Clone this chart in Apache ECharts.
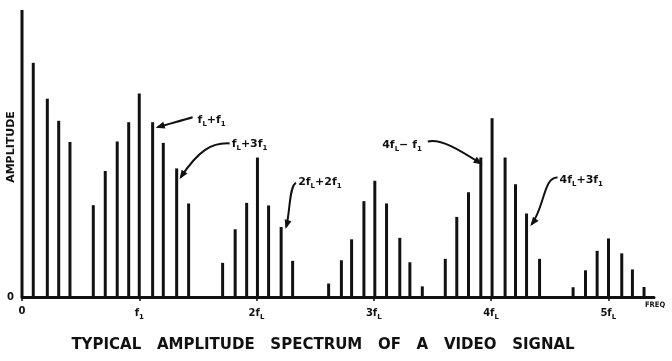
<!DOCTYPE html>
<html>
<head>
<meta charset="utf-8">
<script src="https://cdn.jsdelivr.net/npm/echarts@6/dist/echarts.min.js"></script>
<style>
  html, body { margin: 0; padding: 0; background: #fff; }
  #chart { width: 672px; height: 361px; }
</style>
</head>
<body>
<div id="chart"></div>
<script>
// frequency in units of fL, amplitude in % of the DC line
var freqDC = [0, 0.096, 0.216, 0.313, 0.409];
var ampDC  = [100, 81.6, 69.1, 61.4, 54.0];
var freq1  = [0.608, 0.71, 0.812, 0.91, 1.0, 1.114, 1.205, 1.319, 1.421];
var amp1   = [32.0, 43.9, 54.2, 60.9, 70.9, 60.9, 53.7, 44.8, 32.6];
var freq2  = [1.711, 1.818, 1.916, 2.008, 2.103, 2.21, 2.308];
var amp2   = [11.9, 23.6, 32.8, 48.6, 31.9, 24.4, 12.6];
var freq3  = [2.615, 2.724, 2.811, 2.916, 3.009, 3.109, 3.222, 3.308, 3.414];
var amp3   = [4.7, 12.8, 20.1, 33.4, 40.5, 32.6, 20.6, 12.1, 3.7];
var freq4  = [3.61, 3.708, 3.808, 3.913, 4.009, 4.12, 4.209, 4.303, 4.414];
var amp4   = [13.3, 27.9, 36.5, 48.6, 62.3, 48.6, 39.3, 29.1, 13.3];
var freq5  = [4.70, 4.806, 4.905, 5.002, 5.115, 5.206, 5.305];
var amp5   = [3.4, 9.3, 16.1, 20.4, 15.2, 9.6, 3.5];

var tickMain = ['0', 'f', '2f', '3f', '4f', '5f'];
var tickSub  = ['', '1', 'L', 'L', 'L', 'L'];

// annotations: text parts, the line they point at
var noteText = [
  ['f', 'L', '+f', '1'],
  ['f', 'L', '+3f', '1'],
  ['2f', 'L', '+2f', '1'],
  ['4f', 'L', '\u2212 f', '1'],
  ['4f', 'L', '+3f', '1']
];
var noteFreq = [1.114, 1.319, 2.21, 3.913, 4.303];
var noteAmp  = [60.9, 44.8, 24.4, 48.6, 29.1];

var FONT = '"DejaVu Sans", sans-serif';
var chart = echarts.init(document.getElementById('chart'));

var lines = [];
[[freqDC, ampDC], [freq1, amp1], [freq2, amp2], [freq3, amp3], [freq4, amp4], [freq5, amp5]].forEach(function (c) {
  for (var i = 0; i < c[0].length; i++) lines.push([c[0][i], c[1][i]]);
});

var subRich = {
  m: { fontSize: 10, fontWeight: 'bold', fontFamily: FONT, color: '#111' },
  s: { fontSize: 7, fontWeight: 'bold', fontFamily: FONT, color: '#111', padding: [8, 0, 0, 0] }
};

var options = {
  animation: false,
  backgroundColor: '#fff',
  title: {
    text: 'TYPICAL   AMPLITUDE   SPECTRUM   OF   A   VIDEO   SIGNAL',
    left: 318, textAlign: 'center', top: 333,
    textStyle: { fontSize: 15, fontWeight: 'bold', fontFamily: FONT, color: '#111' }
  },
  grid: { left: 22, right: 18, top: 10, bottom: 64, containLabel: false, outerBoundsMode: 'none' },
  xAxis: {
    type: 'value', min: 0, max: 5.39, interval: 1,
    name: 'FREQ', nameLocation: 'end', nameGap: -9,
    nameTextStyle: { fontSize: 7.5, fontWeight: 'bold', fontFamily: '"DejaVu Sans Condensed", "DejaVu Sans", sans-serif', color: '#111', verticalAlign: 'top', padding: [4, 0, 0, 0] },
    axisLine: { show: true, lineStyle: { color: '#111', width: 3 } },
    axisTick: { show: true, length: 4, lineStyle: { color: '#111', width: 1.5 } },
    splitLine: { show: false },
    axisLabel: {
      margin: 9, showMaxLabel: false,
      formatter: function (v) {
        var i = Math.round(v);
        if (Math.abs(v - i) > 1e-6 || i > 5) return '';
        return '{m|' + tickMain[i] + '}' + (tickSub[i] ? '{s|' + tickSub[i] + '}' : '');
      },
      rich: subRich
    }
  },
  yAxis: {
    type: 'value', min: 0, max: 100, interval: 100,
    name: 'AMPLITUDE', nameLocation: 'middle', nameRotate: 90, nameGap: 5, nameMoveOverlap: false,
    nameTextStyle: { fontSize: 11, fontWeight: 'bold', fontFamily: FONT, color: '#111', padding: [0, 0, 0, 13] },
    axisLine: { show: false }, axisTick: { show: false }, splitLine: { show: false },
    axisLabel: {
      margin: 8, fontSize: 10, fontWeight: 'bold', fontFamily: FONT, color: '#111',
      formatter: function (v) { return v === 0 ? '0' : ''; }
    }
  },
  series: [{
    type: 'bar', data: lines, barWidth: 3, clip: false,
    itemStyle: { color: '#111' }
  }]
};
chart.setOption(options);

// arrow geometry, px offsets from the tip of the pointed line
var noteLayout = [
  { tx: 45, ty: -2, align: 'left',  s: [40, -5],  c1: [30, -2],  c2: [15, 2],   e: [5, 5] },
  { tx: 55, ty: -24, align: 'left', s: [53, -25], c1: [35, -26], c2: [22, -18], e: [4, 9] },
  { tx: 17, ty: -45, align: 'left', s: [15, -44], c1: [8, -42],  c2: [9, -14],  e: [5, 0] },
  { tx: -59, ty: -12, align: 'right', s: [-53, -16], c1: [-40, -19], c2: [-22, -8], e: [0, 6] },
  { tx: 33, ty: -33, align: 'left', s: [31, -36], c1: [17, -37], c2: [18, -6],  e: [5, 11] }
];

var graphics = [];
noteText.forEach(function (t, k) {
  var p = chart.convertToPixel({ gridIndex: 0 }, [noteFreq[k], noteAmp[k]]);
  var L = noteLayout[k];
  var sx = p[0] + L.s[0], sy = p[1] + L.s[1];
  var ex = p[0] + L.e[0], ey = p[1] + L.e[1];
  var c2x = p[0] + L.c2[0], c2y = p[1] + L.c2[1];
  graphics.push({
    type: 'text', x: p[0] + L.tx, y: p[1] + L.ty,
    style: {
      text: '{m|' + t[0] + '}{s|' + t[1] + '}{m|' + t[2] + '}{s|' + t[3] + '}',
      align: L.align, verticalAlign: 'middle',
      rich: {
        m: { fontSize: 11, fontWeight: 'bold', fontFamily: FONT, fill: '#111' },
        s: { fontSize: 7, fontWeight: 'bold', fontFamily: FONT, fill: '#111', padding: [8, 0, 0, 0] }
      }
    }
  });
  graphics.push({
    type: 'bezierCurve',
    shape: { x1: sx, y1: sy, x2: ex, y2: ey, cpx1: p[0] + L.c1[0], cpy1: p[1] + L.c1[1], cpx2: c2x, cpy2: c2y },
    style: { stroke: '#111', lineWidth: 2, fill: null }
  });
  var dx = ex - c2x, dy = ey - c2y, d = Math.sqrt(dx * dx + dy * dy) || 1;
  dx /= d; dy /= d;
  graphics.push({
    type: 'polygon',
    shape: { points: [[ex + dx * 2, ey + dy * 2], [ex - dx * 7 - dy * 3.5, ey - dy * 7 + dx * 3.5], [ex - dx * 7 + dy * 3.5, ey - dy * 7 - dx * 3.5]] },
    style: { fill: '#111' }
  });
});
chart.setOption({ graphic: graphics });

window.addEventListener('resize', function () { chart.resize(); });
</script>
</body>
</html>
